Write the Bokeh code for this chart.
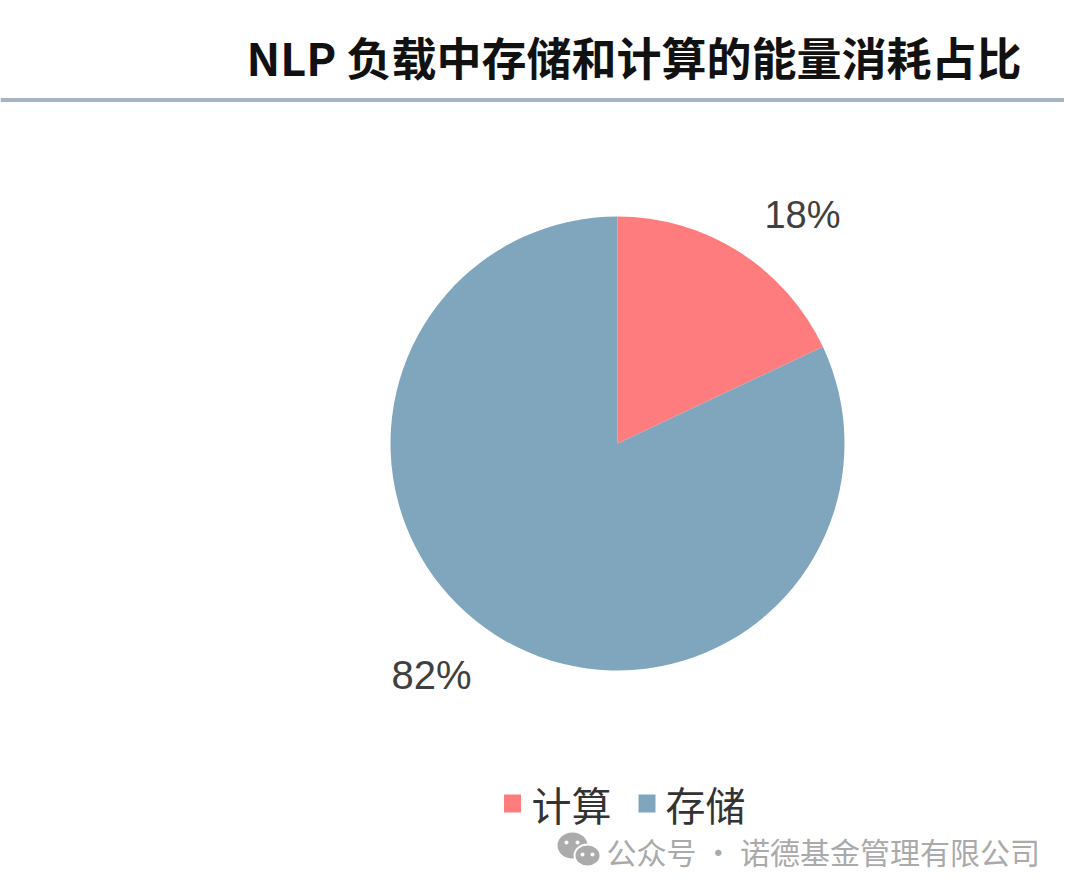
import math
from bokeh.plotting import figure
from bokeh.models import Range1d, ColumnDataSource
from bokeh.core.properties import value
from bokeh.embed import file_html
from bokeh.resources import INLINE

# ---- data ----
title_text = "NLP 负载中存储和计算的能量消耗占比"
categories = ["计算", "存储"]
shares = [18, 82]
colors = ["#FF7C7E", "#7FA6BD"]
pct_labels = ["18%", "82%"]
watermark = "公众号 · 诺德基金管理有限公司"

W, H = 1064, 877
PAGE_H = 893


def Y(yr):
    return PAGE_H - yr


p = figure(width=W, height=H, x_range=Range1d(0, W), y_range=Range1d(PAGE_H - H, PAGE_H),
           output_backend="svg", toolbar_location=None, min_border=0,
           min_border_left=0, min_border_right=0, min_border_top=0, min_border_bottom=0)
p.axis.visible = False
p.grid.visible = False
p.outline_line_color = None
p.background_fill_color = "white"
p.border_fill_color = "white"

# ---- title + separator ----
p.text(x=[246], y=[Y(56)], text=[title_text], text_font=value("Noto Sans CJK SC"),
       text_font_style="bold", text_font_size="45px", text_color="#111111",
       text_align="left", text_baseline="middle")
p.segment(x0=[0], y0=[Y(99.5)], x1=[1080], y1=[Y(99.5)], line_color="#A3B5C3", line_width=4)

# ---- pie ----
cx, cy, R = 617, Y(443), 227
total = sum(shares)
starts, ends = [], []
acc = 0.0
for s in shares:
    a0 = math.pi / 2 - 2 * math.pi * (acc + s) / total
    a1 = math.pi / 2 - 2 * math.pi * acc / total
    starts.append(a0)
    ends.append(a1)
    acc += s
src = ColumnDataSource(dict(start=starts, end=ends, color=colors, cat=categories))
p.wedge(x=cx, y=cy, radius=R, start_angle="start", end_angle="end", direction="anticlock",
        fill_color="color", line_color=None, source=src)

# percentage labels
p.text(x=[802, 431], y=[Y(214), Y(674)], text=pct_labels, text_font=value("Liberation Sans"),
       text_font_size=["38px", "40px"], text_color="#404040", text_align="center", text_baseline="middle")

# ---- legend ----
leg_sq_x = [512, 646.5]
leg_tx_x = [531, 665]
p.rect(x=leg_sq_x, y=[Y(803)] * 2, width=17, height=18, fill_color=colors, line_color=None)
p.text(x=leg_tx_x, y=[Y(803)] * 2, text=categories, text_font=value("Noto Sans CJK SC"),
       text_font_size="40px", text_color="#333333", text_align="left", text_baseline="middle")

# ---- watermark ----
p.ellipse(x=[572], y=[Y(845)], width=30, height=26, fill_color="#ABABAB", line_color=None)
p.ellipse(x=[587], y=[Y(855)], width=26, height=22, fill_color="#ABABAB", line_color="white", line_width=2)
p.scatter(x=[566, 577, 582, 592], y=[Y(842), Y(842), Y(854), Y(854)], size=4,
          fill_color="white", line_color=None)
p.text(x=[606], y=[Y(850)], text=[watermark], text_font=value("Noto Sans CJK SC"),
       text_font_size="30px", text_color="#AAAAAA", text_align="left", text_baseline="middle")

open("out.html", "w").write(file_html(p, INLINE))
